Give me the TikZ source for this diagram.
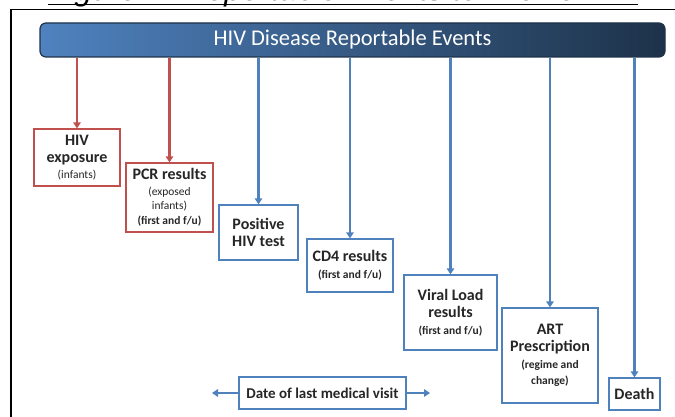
\documentclass[tikz,border=0pt]{standalone}
\usepackage{fontspec}
\setmainfont{Carlito}
\newfontfamily\capfont{Liberation Sans}
\usetikzlibrary{arrows.meta}
\definecolor{evred}{HTML}{C0504D}
\definecolor{evblue}{HTML}{4F81BD}
\definecolor{barleft}{HTML}{4F82BF}
\definecolor{barright}{HTML}{1D3249}
\definecolor{evtext}{HTML}{262626}
\newcommand{\sm}[1]{{\fontsize{11.5}{12.5}\selectfont #1}}
\begin{document}
\begin{tikzpicture}[x=1pt, y=-1pt, thick,
    ev/.style = {draw, line width=1.3pt, fill=white, align=center, inner sep=1pt,
                 text=evtext, font=\bfseries\fontsize{16}{17}\selectfont},
    redev/.style = {ev, draw=evred},
    blueev/.style = {ev, draw=evblue},
    redarr/.style = {draw=evred, line width=2.2pt, -{Triangle[width=7.5pt,length=6pt]}},
    bluearr/.style = {draw=evblue, line width=2.2pt, -{Triangle[width=7.5pt,length=6pt]}}]
    \useasboundingbox (0,0) rectangle (675,417);
    \clip (0,0) rectangle (675,417);
    % caption, cut at the top edge
    \node[anchor=base, inner sep=0pt, font=\capfont\itshape\fontsize{31.5}{31.5}\selectfont] (cap) at (343,1) {Figure 2: Reportable Events to Profile HIV};
    \draw[line width=1.2pt] ([yshift=-3.2pt]cap.base west) -- ([yshift=-3.2pt]cap.base east);
    % frame
    \draw[line width=1.6pt] (11,420) -- (11,9.5) -- (680,9.5);
    % header bar
    \node[draw=barright, line width=1.2pt, rounded corners=6pt, left color=barleft, right color=barright,
          minimum width=625pt, minimum height=34pt, text=white, font=\fontsize{22.5}{23}\selectfont] (bar) at (352.5,40) {HIV Disease Reportable Events};
    % events
    \node[redev, minimum width=86pt, minimum height=57pt] (exp) at (77,157.5) {HIV\\exposure\\[-1pt]\sm{\mdseries (infants)}};
    \node[redev, minimum width=87pt, minimum height=69pt] (pcr) at (169.5,197.5) {PCR results\\[-1pt]\sm{\mdseries (exposed}\\[-3pt]\sm{\mdseries infants)}\\[-2pt]\sm{(first and f/u)}};
    \node[blueev, minimum width=79pt, minimum height=55pt] (pos) at (258.5,232.5) {Positive\\HIV test};
    \node[blueev, minimum width=86pt, minimum height=53pt] (cd4) at (350,265.5) {CD4 results\\\sm{(first and f/u)}};
    \node[blueev, minimum width=93pt, minimum height=75pt] (vl) at (450.5,312.5) {Viral Load\\results\\\sm{(first and f/u)}};
    \node[blueev, minimum width=96pt, minimum height=95pt] (art) at (550,355.5) {ART\\Prescription\\\sm{(regime and}\\[-1pt]\sm{change)}};
    \node[blueev, minimum width=51pt, minimum height=32pt] (death) at (634.5,394) {Death};
    \node[blueev, minimum width=167pt, minimum height=32pt, font=\bfseries\fontsize{15}{16}\selectfont] (visit) at (322.5,393) {Date of last medical visit};
    \coordinate (vleft) at (212,393);
    \coordinate (vright) at (430,393);
    % connectors
    \draw[redarr] (bar.south -| exp.north) -- (exp.north);
    \draw[redarr] (bar.south -| pcr.north) -- (pcr.north);
    \draw[bluearr] (bar.south -| pos.north) -- (pos.north);
    \draw[bluearr] (bar.south -| cd4.north) -- (cd4.north);
    \draw[bluearr] (bar.south -| vl.north) -- (vl.north);
    \draw[bluearr] (bar.south -| art.north) -- (art.north);
    \draw[bluearr] (bar.south -| death.north) -- (death.north);
    \draw[bluearr] (visit.west) -- (vleft);
    \draw[bluearr] (visit.east) -- (vright);
\end{tikzpicture}
\end{document}
